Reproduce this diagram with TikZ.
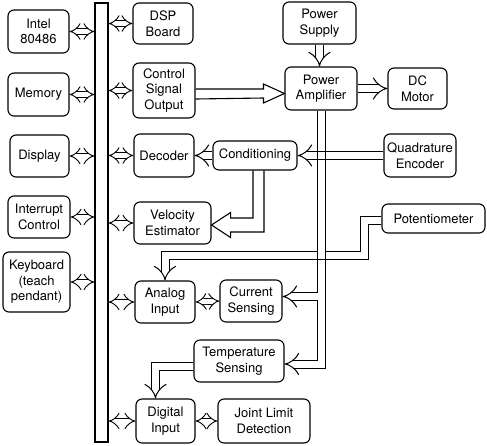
\documentclass[tikz,border=0pt]{standalone}
\usepackage{fontspec}
\newfontfamily\diafont{TeX Gyre Heros}
\usetikzlibrary{arrows.meta, calc}
\tikzset{
  blk/.style={
    draw=black, rounded corners=6pt, line width=1.1pt,
    align=center, inner sep=1pt, font=\diafont\fontsize{13}{15.5}\selectfont
  },
  sz/.style 2 args={minimum width=#1pt, minimum height=#2pt},
  pipe/.style={draw=black, line width=1pt, double=white, double distance=7pt},
  busarrow/.style={draw=black, line width=0.9pt, double=white, double distance=5pt,
    arrows={Implies[length=5pt, width=13pt]-Implies[length=5pt, width=13pt]}},
  bigarrow/.style={draw=black, line width=1.1pt, line join=miter}
}

\begin{document}
\begin{tikzpicture}[x=1pt, y=-1pt]
    \useasboundingbox (0,0) rectangle (487,445);
    % bus and computer side
    \node[draw=black, line width=1.1pt, minimum width=13pt, minimum height=439pt, inner sep=0pt] (bus) at (101.5,222.5) {};
    \node[blk, sz={61}{43}] (intel) at (38.5,31.5) {Intel\\80486};
    \node[blk, sz={61}{43}] (memory) at (38.5,94.5) {Memory};
    \node[blk, sz={59}{42}] (display) at (39.5,156) {Display};
    \node[blk, sz={62}{42}] (interrupt) at (39,217) {Interrupt\\Control};
    \node[blk, sz={67}{60}] (keyboard) at (36.5,282) {Keyboard\\(teach\\pendant)};
    % interface boards
    \node[blk, sz={60}{41}] (dsp) at (163,23.5) {DSP\\Board};
    \node[blk, sz={62}{55}] (cso) at (164,90.5) {Control\\Signal\\Output};
    \node[blk, sz={60}{43}] (decoder) at (164,155.5) {Decoder};
    \node[blk, sz={77}{42}] (velocity) at (172.5,223) {Velocity\\Estimator};
    \node[blk, sz={60}{42}] (analog) at (165,302) {Analog\\Input};
    \node[blk, sz={59}{44}] (digital) at (165.5,421) {Digital\\Input};
    \node[blk, sz={62}{42}] (current) at (251,301) {Current\\Sensing};
    \node[blk, sz={90}{42}] (temp) at (239,361) {Temperature\\Sensing};
    \node[blk, sz={92}{44}] (joint) at (264,421) {Joint Limit\\Detection};
    \node[blk, sz={84}{29}] (cond) at (255,155.5) {Conditioning};
    % drive side
    \node[blk, sz={73}{42}] (psupply) at (319.5,23) {Power\\Supply};
    \node[blk, sz={72}{43}] (pamp) at (321,88.5) {Power\\Amplifier};
    \node[blk, sz={59}{41}] (motor) at (417.5,88.5) {DC\\Motor};
    \node[blk, sz={72}{43}] (quad) at (420,155.5) {Quadrature\\Encoder};
    \node[blk, sz={103}{29}] (pot) at (433.5,218.5) {Potentiometer};
    \coordinate (potbend) at (364,255);

    % bus connections
    \foreach \n in {intel,memory,display,interrupt,keyboard}
      \draw[busarrow] (\n.east) -- (\n.east -| bus.west);
    \foreach \n in {dsp,cso,decoder,velocity,analog,digital}
      \draw[busarrow] (bus.east |- \n.west) -- (\n.west);
    \draw[busarrow] (analog.east) -- (current.west);
    \draw[busarrow] (digital.east) -- (joint.west);

    % power path
    \draw[pipe, -{Implies}] (psupply.south) -- (psupply.south |- pamp.north);
    \draw[pipe, -{Implies}] (pamp.east) -- (motor.west);
    \draw[bigarrow] ($(cso.east)+(0,-1.5)$) -- ($(pamp.west)+(-21,0.5)$) -- ($(pamp.west)+(-21,-4.5)$)
      -- ($(pamp.west)+(0,5)$) -- ($(pamp.west)+(-21,14.5)$) -- ($(pamp.west)+(-21,9.5)$) -- ($(cso.east)+(0,8.5)$);
    \draw[pipe, -{Implies}] (pamp.south) |- ($(temp.east)+(0,3)$);
    \draw[pipe, -{Implies}] ($(pamp.south |- current.east)+(-3.4,-4.5)$) -- ($(current.east)+(0,-4.5)$);

    % sensor paths
    \draw[pipe, -{Implies}] (quad.west) -- (cond.east);
    \draw[pipe, -{Implies}] (cond.west) -- (decoder.east);
    \draw[bigarrow] ($(cond.south)+(-2,0)$) |- ($(velocity.east)+(19,-5)$) -- ($(velocity.east)+(19,-10.5)$)
      -- ($(velocity.east)+(0,2)$) -- ($(velocity.east)+(19,14.5)$) -- ($(velocity.east)+(19,9)$) -| ($(cond.south)+(9,0)$);
    \draw[pipe, -{Implies}] ($(pot.west)+(0,2)$) -| (potbend) -| (analog.north);
    \draw[pipe, -{Implies}] ($(temp.west)+(0,5)$) -| ($(digital.north)+(-10,0)$);

    % keep the trunk rails visible where pipes cross it
    \foreach \c in {quad.west,potbend} {
      \begin{scope}
        \clip ($(pamp.south |- \c)+(-7,-3.4)$) rectangle ($(pamp.south |- \c)+(7,3.4)$);
        \draw[pipe] (pamp.south) -- (pamp.south |- temp.east);
      \end{scope}
    }
\end{tikzpicture}
\end{document}
